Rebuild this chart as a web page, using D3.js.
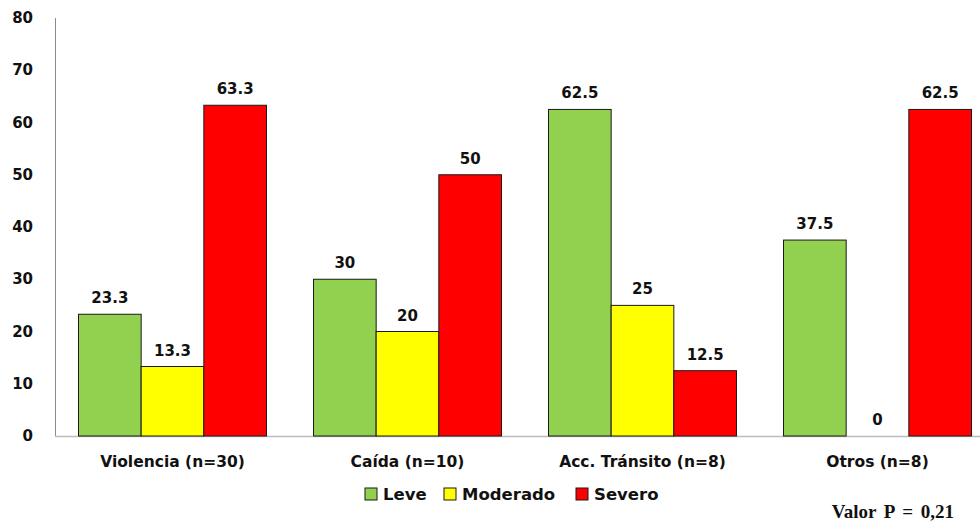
<!DOCTYPE html>
<html>
<head>
<meta charset="utf-8">
<script src="https://cdn.jsdelivr.net/npm/d3@7"></script>
<style>
  html, body { margin: 0; padding: 0; background: #fff; }
  svg { display: block; }
  text { font-family: "DejaVu Sans", Verdana, sans-serif; font-weight: bold; fill: #111; }
</style>
</head>
<body>
<svg id="chart" width="980" height="523"></svg>
<script>
// Injury severity by mechanism (%)
const categories = ["Violencia (n=30)", "Caída (n=10)", "Acc. Tránsito (n=8)", "Otros (n=8)"];
const seriesNames = ["Leve", "Moderado", "Severo"];
const leve = [23.3, 30, 62.5, 37.5];
const moderado = [13.3, 20, 25, 0];
const severo = [63.3, 50, 12.5, 62.5];
const yTicks = [0, 10, 20, 30, 40, 50, 60, 70, 80];
const colors = ["#92d050", "#ffff00", "#ff0000"];
const footnote = "Valor P = 0,21";

const seriesValues = [leve, moderado, severo];

const svg = d3.select("#chart");
const margin = { left: 55, top: 18, bottom: 87 };
const plotW = 940;
const plotH = 523 - margin.top - margin.bottom;

const x = d3.scaleBand().domain(categories).range([margin.left, margin.left + plotW])
  .paddingInner(0.2).paddingOuter(0.1);
const xs = d3.scaleBand().domain(seriesNames).range([0, x.bandwidth()]);
const y = d3.scaleLinear().domain([0, 80]).range([margin.top + plotH, margin.top]);

// Axis lines
svg.append("line").attr("x1", margin.left + 0.5).attr("x2", margin.left + 0.5)
  .attr("y1", y(80)).attr("y2", y(0)).attr("stroke", "#8c8c8c").attr("stroke-width", 1);
svg.append("line").attr("x1", margin.left).attr("x2", 980)
  .attr("y1", y(0) + 0.5).attr("y2", y(0) + 0.5).attr("stroke", "#bdbdbd").attr("stroke-width", 1.5);

// Y tick labels
svg.selectAll("text.ytick").data(yTicks).join("text")
  .attr("class", "ytick")
  .attr("x", 33).attr("y", d => y(d))
  .attr("text-anchor", "end").attr("dominant-baseline", "central")
  .attr("font-size", 15).text(d => d);

// Bars
const groups = svg.selectAll("g.cat").data(categories).join("g")
  .attr("class", "cat").attr("transform", d => `translate(${x(d)},0)`);

groups.each(function (cat, ci) {
  const g = d3.select(this);
  seriesNames.forEach((s, si) => {
    const v = seriesValues[si][ci];
    if (v > 0) {
      g.append("rect")
        .attr("x", xs(s)).attr("width", xs.bandwidth())
        .attr("y", y(v)).attr("height", y(0) - y(v))
        .attr("fill", colors[si]).attr("stroke", "#1a1a1a").attr("stroke-width", 1);
    }
    g.append("text")
      .attr("x", xs(s) + xs.bandwidth() / 2)
      .attr("y", y(v) - 16)
      .attr("text-anchor", "middle").attr("dominant-baseline", "central")
      .attr("font-size", 15).text(v);
  });
});

// Category labels
svg.selectAll("text.xcat").data(categories).join("text")
  .attr("class", "xcat")
  .attr("x", d => x(d) + x.bandwidth() / 2).attr("y", 462)
  .attr("text-anchor", "middle").attr("dominant-baseline", "central")
  .attr("font-size", 15.5).text(d => d);

// Legend
const legendX = [365, 444, 576];
const legend = svg.selectAll("g.leg").data(seriesNames).join("g")
  .attr("class", "leg").attr("transform", (d, i) => `translate(${legendX[i]},488)`);
legend.append("rect").attr("width", 12).attr("height", 12)
  .attr("fill", (d, i) => colors[i]).attr("stroke", "#1a1a1a").attr("stroke-width", 1);
legend.append("text").attr("x", 18).attr("y", 6)
  .attr("dominant-baseline", "central").attr("font-size", 16.5).text(d => d);

// Footnote
svg.append("text").attr("x", 954).attr("y", 518)
  .attr("text-anchor", "end")
  .style("font-family", "'Liberation Serif', 'DejaVu Serif', serif")
  .style("word-spacing", "3px")
  .attr("font-size", 19).text(footnote);
</script>
</body>
</html>
